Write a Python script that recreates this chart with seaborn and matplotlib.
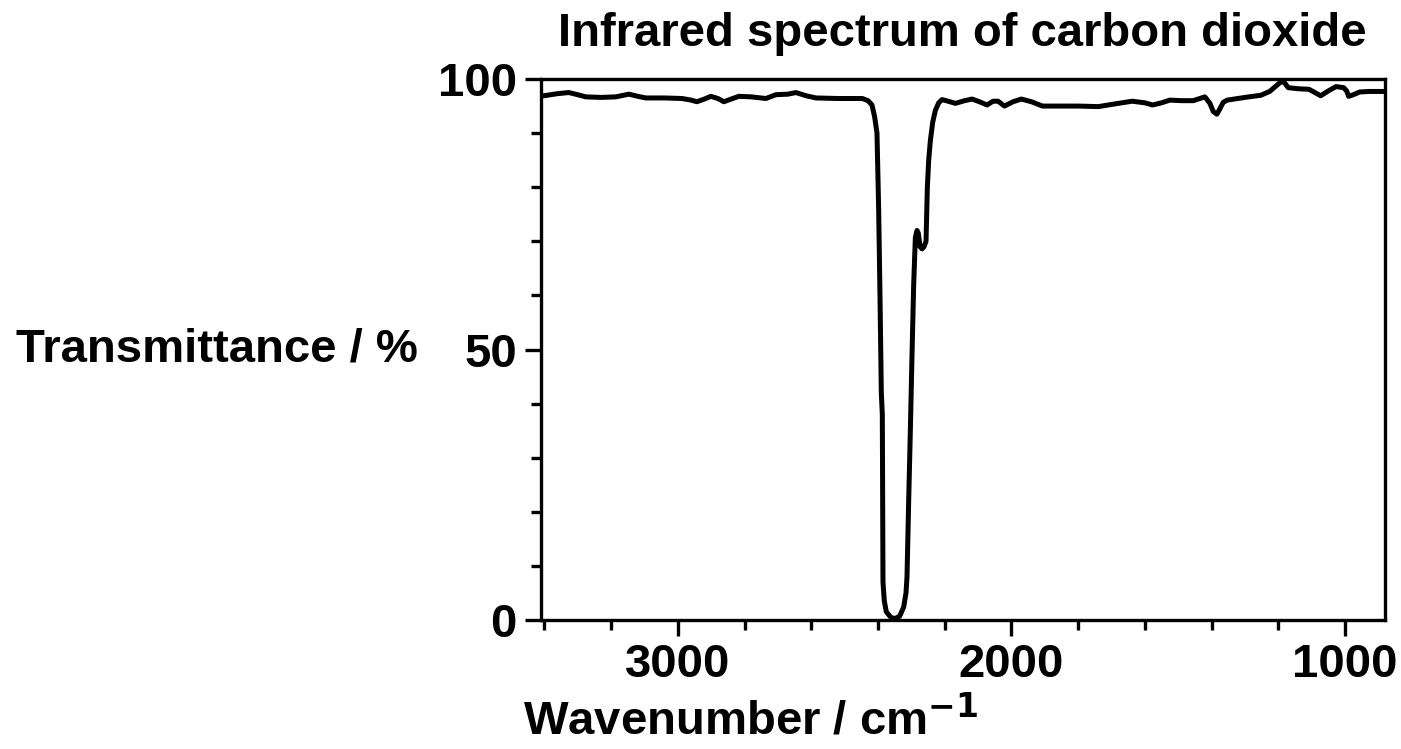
import matplotlib
matplotlib.use("Agg")
import matplotlib.pyplot as plt
from matplotlib.ticker import MultipleLocator
import seaborn as sns
import pandas as pd

# lecturas del espectro (número de onda en cm-1, transmitancia en %)
wavenumber = [3410, 3402, 3360, 3327, 3300, 3276, 3230, 3186, 3147, 3120,
              3096, 3040, 2988, 2960, 2943, 2920, 2901, 2880, 2862, 2840,
              2817, 2780, 2736, 2706, 2670, 2646, 2615, 2586, 2520, 2447,
              2430, 2418, 2410, 2403, 2398, 2394, 2390, 2387, 2385, 2381,
              2375, 2360, 2348, 2335, 2323, 2316, 2313, 2308, 2303, 2298,
              2293, 2288, 2283, 2279, 2274, 2268, 2262, 2256, 2252, 2248,
              2243, 2236, 2228, 2218, 2208, 2190, 2168, 2140, 2118, 2096,
              2073, 2055, 2040, 2021, 1995, 1970, 1940, 1907, 1800, 1739,
              1700, 1638, 1600, 1577, 1550, 1525, 1490, 1455, 1430, 1420,
              1405, 1395, 1384, 1375, 1365, 1353, 1300, 1252, 1226, 1205,
              1190, 1180, 1170, 1140, 1108, 1090, 1073, 1050, 1027, 1004,
              995, 989, 975, 956, 930, 880]
transmittance = [96.9, 96.9, 97.3, 97.5, 97.1, 96.7, 96.6, 96.7, 97.2, 96.8,
                 96.5, 96.5, 96.4, 96.1, 95.8, 96.3, 96.8, 96.4, 95.8, 96.3,
                 96.8, 96.7, 96.4, 97.1, 97.2, 97.5, 96.9, 96.5, 96.4, 96.4,
                 96.0, 95.2, 93.0, 90.0, 76.0, 60.0, 42.0, 38.0, 7.0, 3.5,
                 1.5, 0.4, 0.3, 0.7, 2.4, 5.0, 8.0, 22.0, 35.0, 49.0,
                 62.0, 70.7, 72.0, 71.5, 69.0, 68.6, 69.0, 70.0, 80.0, 85.0,
                 88.6, 92.0, 94.2, 95.6, 96.2, 95.9, 95.5, 96.0, 96.3, 95.8,
                 95.2, 95.9, 95.9, 95.0, 95.8, 96.3, 95.8, 95.0, 95.0, 94.9,
                 95.3, 95.9, 95.6, 95.2, 95.6, 96.1, 96.0, 96.0, 96.5, 96.7,
                 95.5, 94.0, 93.5, 94.5, 95.7, 96.1, 96.6, 97.0, 97.7, 98.8,
                 99.6, 99.2, 98.4, 98.2, 98.1, 97.5, 96.9, 97.8, 98.6, 98.4,
                 97.8, 96.8, 97.1, 97.6, 97.7, 97.7]

x_ticks = [3000, 2000, 1000]
y_ticks = [0, 50, 100]

df = pd.DataFrame({"wavenumber": wavenumber, "T": transmittance})

sns.set_style("ticks")
plt.rcParams["font.family"] = ["Liberation Sans", "DejaVu Sans"]
plt.rcParams["font.weight"] = "bold"
plt.rcParams["text.color"] = "black"
plt.rcParams["xtick.color"] = "black"
plt.rcParams["ytick.color"] = "black"
plt.rcParams["axes.labelcolor"] = "black"

fs = 34

fig = plt.figure(figsize=(14.01, 7.49), dpi=100)
ax = fig.add_axes([0.3862, 0.1722, 0.6024, 0.7223])

sns.lineplot(data=df, x="wavenumber", y="T", ax=ax, color="black",
             linewidth=3.6, sort=False, estimator=None,
             solid_joinstyle="round", solid_capstyle="round")

ax.set_xlim(3410, 880)
ax.set_ylim(0, 100)
ax.set_xticks(x_ticks)
ax.set_yticks(y_ticks)
ax.xaxis.set_minor_locator(MultipleLocator(200))
ax.yaxis.set_minor_locator(MultipleLocator(10))
ax.tick_params(which="major", length=11.5, width=2.4, labelsize=fs, pad=5,
               colors="black")
ax.tick_params(which="minor", length=7, width=2.4, colors="black")
ax.tick_params(axis="y", which="major", pad=6)
for lab in ax.get_xticklabels() + ax.get_yticklabels():
    lab.set_fontweight("bold")

for s in ax.spines.values():
    s.set_linewidth(2.4)
    s.set_color("black")

ax.set_xlabel("")
ax.set_ylabel("")

fig.text(0.687, 0.955, "Infrared spectrum of carbon dioxide", ha="center",
         va="center", fontsize=fs, fontweight="bold")
fig.text(0.155, 0.533, "Transmittance / %", ha="center", va="center",
         fontsize=fs, fontweight="bold")
fig.text(0.536, 0.038, "Wavenumber / cm$^{\\mathbf{\u22121}}$", ha="center",
         va="center", fontsize=fs, fontweight="bold")

fig.savefig("out.png", dpi=100)
